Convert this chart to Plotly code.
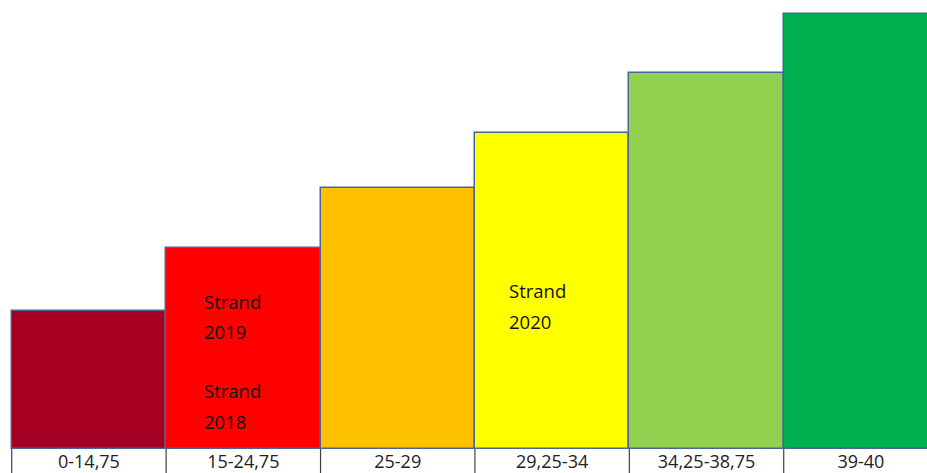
import plotly.graph_objects as go

# Score bands along the bottom row
categories = ["0-14,75", "15-24,75", "25-29", "29,25-34", "34,25-38,75", "39-40"]
# Bar heights (relative step heights of each band)
heights = [138, 201, 261, 316, 376, 435]
colors = ["#A50021", "#FF0000", "#FFC000", "#FFFF00", "#92D050", "#00B050"]

# Text notes placed inside the bands: (band index, offset, height, text)
notes = [
    (1, -0.27, 148, "Strand"),
    (1, -0.27, 118, "2019"),
    (1, -0.27, 59, "Strand"),
    (1, -0.27, 28, "2018"),
    (3, -0.29, 159, "Strand"),
    (3, -0.29, 128, "2020"),
]

xs = list(range(len(categories)))

fig = go.Figure(
    go.Bar(
        x=xs,
        y=heights,
        width=1,
        marker=dict(color=colors, line=dict(color="#4A6597", width=1.5)),
        hoverinfo="skip",
    )
)

for idx, off, yv, txt in notes:
    fig.add_annotation(
        x=idx + off, y=yv, text=txt, xref="x", yref="y",
        xanchor="left", yanchor="middle", showarrow=False,
        font=dict(family="Open Sans", size=18.5, color="#111111"),
    )

# Cell borders of the label row under the bars
for i in range(len(categories) + 1):
    fig.add_shape(
        type="line", xref="x", yref="paper",
        x0=i - 0.5, x1=i - 0.5, y0=-0.1, y1=0,
        line=dict(color="#404040", width=1.2),
    )

fig.update_layout(
    width=927, height=473,
    margin=dict(l=0, r=0, t=0, b=24),
    paper_bgcolor="white", plot_bgcolor="white",
    showlegend=False, bargap=0,
    xaxis=dict(
        range=[-0.576, 5.428], tickvals=xs, ticktext=categories,
        showgrid=False, zeroline=False, showline=False,
        ticks="", ticklen=0,
        tickfont=dict(family="Open Sans", size=18, color="#222222"),
        automargin=False, fixedrange=True,
    ),
    yaxis=dict(range=[0, 449], visible=False, automargin=False, fixedrange=True),
)

fig.write_html("out.html")
